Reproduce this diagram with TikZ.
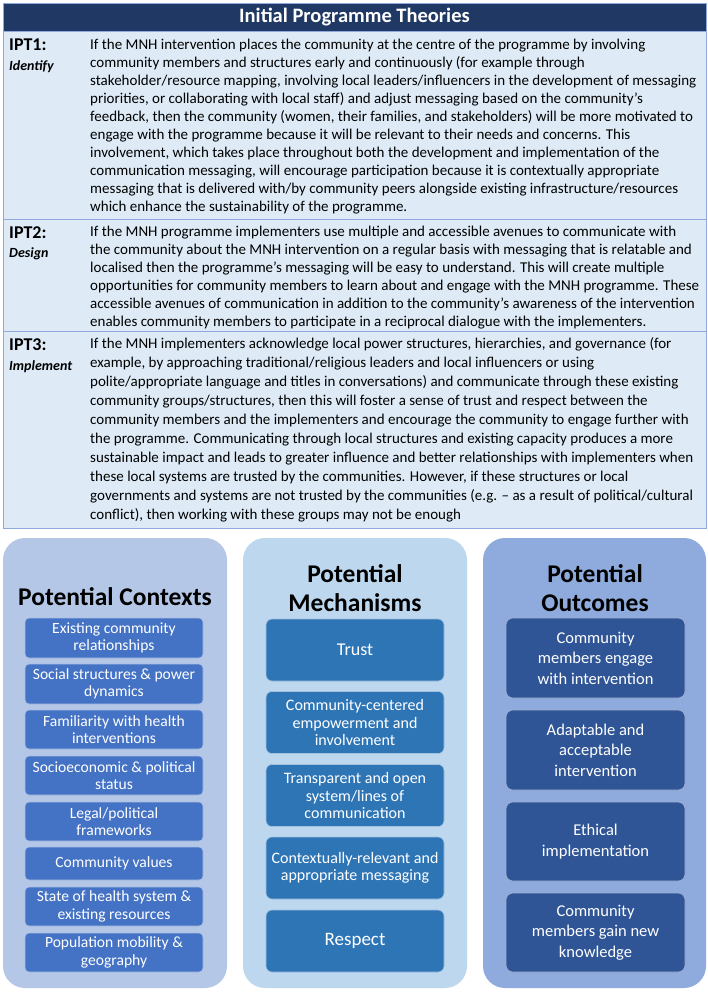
\documentclass[tikz,border=0pt]{standalone}
\usepackage{fontspec}
\setmainfont{Carlito}
\definecolor{navy}{HTML}{203864}
\definecolor{rowfill}{HTML}{DEEBF7}
\definecolor{rowline}{HTML}{8EA9DB}
\definecolor{ccol}{HTML}{B4C7E7}
\definecolor{mcol}{HTML}{BDD7EE}
\definecolor{ocol}{HTML}{8FAADC}
\definecolor{cbox}{HTML}{4472C4}
\definecolor{mbox}{HTML}{2E75B6}
\definecolor{obox}{HTML}{2F5597}
\begin{document}
\begin{tikzpicture}[x=1pt,y=-1pt,
  rowbox/.style={draw=rowline, fill=rowfill, line width=0.9pt},
  lbl/.style={anchor=base west, inner sep=0pt, font=\fontsize{18}{20}\selectfont\bfseries},
  sublbl/.style={anchor=base west, inner sep=0pt, font=\fontsize{14}{16}\selectfont\bfseries\itshape},
  para/.style={anchor=base west, inner sep=0pt, align=left, font=\fontsize{15}{17.9}\selectfont},
  colbox/.style={rounded corners=22pt},
  coltitle/.style={align=center, inner sep=0pt, font=\fontsize{25.5}{29}\selectfont\bfseries},
  ctx/.style={draw=white!55!cbox, fill=cbox, line width=0.6pt, rounded corners=4pt, text=white, align=center,
    font=\fontsize{15.6}{17.3}\selectfont, inner sep=0pt, minimum width=178pt},
  mech/.style={draw=white!55!mbox, fill=mbox, line width=0.6pt, rounded corners=6pt, text=white, align=center,
    font=\fontsize{16}{17.4}\selectfont, inner sep=0pt, minimum width=178pt, minimum height=62pt},
  outc/.style={draw=white!55!obox, fill=obox, line width=0.6pt, rounded corners=7pt, text=white, align=center,
    font=\fontsize{16.5}{20.5}\selectfont, inner sep=0pt, minimum width=179pt},
]
\useasboundingbox (0,0) rectangle (708,992);
\fill[white] (0,0) rectangle (708,992);

% header
\node[fill=navy, draw=rowline, line width=0.9pt, minimum width=703pt, minimum height=28pt, inner sep=0pt,
  text=white, font=\fontsize{20.5}{24}\selectfont\bfseries] (hdr) at (354.5,17) {Initial Programme Theories};

% rows
\draw[rowbox] (3,31) rectangle (706,219);
\draw[rowbox] (3,219) rectangle (706,331);
\draw[rowbox] (3,331) rectangle (706,528);

\node[lbl] (l1) at (9,51) {IPT1:};
\node[sublbl] (s1) at (9,71) {Identify};
\node[lbl] (l2) at (9,238) {IPT2:};
\node[sublbl] (s2) at (9,258) {Design};
\node[lbl] (l3) at (9,350) {IPT3:};
\node[sublbl] (s3) at (9,370) {Implement};

% paragraphs: anchor at the baseline of the last line
\node[para] (p1) at (90,211.1) {If the MNH intervention places the community at the centre of the programme by involving\\
community members and structures early and continuously (for example through\\
stakeholder/resource mapping, involving local leaders/influencers in the development of messaging\\
priorities, or collaborating with local staff) and adjust messaging based on the community’s\\
feedback, then the community (women, their families, and stakeholders) will be more motivated to\\
engage with the programme because it will be relevant to their needs and concerns. This\\
involvement, which takes place throughout both the development and implementation of the\\
communication messaging, will encourage participation because it is contextually appropriate\\
messaging that is delivered with/by community peers alongside existing infrastructure/resources\\
which enhance the sustainability of the programme.};

\node[para] (p2) at (90,326) {If the MNH programme implementers use multiple and accessible avenues to communicate with\\
the community about the MNH intervention on a regular basis with messaging that is relatable and\\
localised then the programme’s messaging will be easy to understand. This will create multiple\\
opportunities for community members to learn about and engage with the MNH programme. These\\
accessible avenues of communication in addition to the community’s awareness of the intervention\\
enables community members to participate in a reciprocal dialogue with the implementers.};

\node[para, font=\fontsize{15}{18.9}\selectfont] (p3) at (90,519) {If the MNH implementers acknowledge local power structures, hierarchies, and governance (for\\
example, by approaching traditional/religious leaders and local influencers or using\\
polite/appropriate language and titles in conversations) and communicate through these existing\\
community groups/structures, then this will foster a sense of trust and respect between the\\
community members and the implementers and encourage the community to engage further with\\
the programme. Communicating through local structures and existing capacity produces a more\\
sustainable impact and leads to greater influence and better relationships with implementers when\\
these local systems are trusted by the communities. However, if these structures or local\\
governments and systems are not trusted by the communities (e.g. – as a result of political/cultural\\
conflict), then working with these groups may not be enough};

% columns
\fill[colbox, ccol] (3,538) rectangle (227,988);
\fill[colbox, mcol] (243,538) rectangle (467,988);
\fill[colbox, ocol] (483,538) rectangle (706,988);

\node[coltitle] (ct) at (115,597) {Potential Contexts};
\node[coltitle] (mt) at (355,588) {Potential\\Mechanisms};
\node[coltitle] (ot) at (595,588) {Potential\\Outcomes};

% context boxes
\node[ctx, minimum height=40pt] (c1) at (114,638) {Existing community\\relationships};
\node[ctx, minimum height=40pt] (c2) at (114,684) {Social structures \& power\\dynamics};
\node[ctx, minimum height=39pt] (c3) at (114,729.5) {Familiarity with health\\interventions};
\node[ctx, minimum height=39pt] (c4) at (114,775.5) {Socioeconomic \& political\\status};
\node[ctx, minimum height=39pt] (c5) at (114,821.5) {Legal/political\\frameworks};
\node[ctx, minimum height=33pt] (c6) at (114,863.5) {Community values};
\node[ctx, minimum height=39pt] (c7) at (114,906.5) {State of health system \&\\existing resources};
\node[ctx, minimum height=39pt] (c8) at (114,952.5) {Population mobility \&\\geography};

% mechanism boxes
\node[mech, font=\fontsize{18}{20}\selectfont] (m1) at (355,650) {Trust};
\node[mech] (m2) at (355,722.5) {Community-centered\\empowerment and\\involvement};
\node[mech] (m3) at (355,795.5) {Transparent and open\\system/lines of\\communication};
\node[mech] (m4) at (355,868) {Contextually-relevant and\\appropriate messaging};
\node[mech, font=\fontsize{19}{21}\selectfont] (m5) at (355,941) {Respect};

% outcome boxes
\node[outc, minimum height=80pt] (o1) at (595.5,658) {Community\\members engage\\with intervention};
\node[outc, minimum height=80pt] (o2) at (595.5,750) {Adaptable and\\acceptable\\intervention};
\node[outc, minimum height=79pt] (o3) at (595.5,841.5) {Ethical\\implementation};
\node[outc, minimum height=79pt] (o4) at (595.5,932.5) {Community\\members gain new\\knowledge};
\end{tikzpicture}
\end{document}
